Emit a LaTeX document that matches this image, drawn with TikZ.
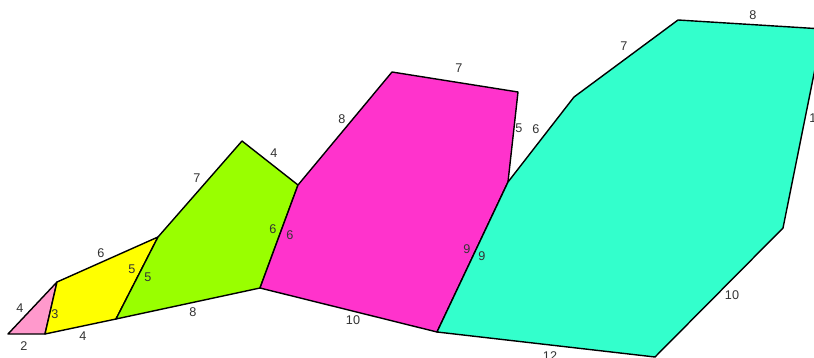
\documentclass[tikz,border=0pt]{standalone}
\usepackage{fontspec}
\setmainfont{Liberation Sans}
\usepackage{xcolor}
\usepackage{tikz}

\definecolor{pinkf}{HTML}{FF99CC}
\definecolor{yellowf}{HTML}{FFFF00}
\definecolor{greenf}{HTML}{99FF00}
\definecolor{magentaf}{HTML}{FF33CC}
\definecolor{tealf}{HTML}{33FFCC}
\definecolor{labelc}{HTML}{333333}

\tikzset{
  face/.style={draw=black, line width=0.8pt, line join=round},
  side/.style={text=labelc, inner sep=0pt, font=\fontsize{7.2}{8}\selectfont}
}

\begin{document}
\begin{tikzpicture}[x=0.02cm, y=-0.02cm]
        \useasboundingbox (0,0) rectangle (814,358);
        \clip (0,0) rectangle (814,358);

        % corners
        \coordinate (a) at (8,334);
        \coordinate (b) at (45,334);
        \coordinate (c) at (57,282);
        \coordinate (d) at (158,237);
        \coordinate (e) at (116,319);
        \coordinate (f) at (242,141);
        \coordinate (g) at (298,185);
        \coordinate (h) at (260,288);
        \coordinate (i) at (392,72);
        \coordinate (j) at (518,92);
        \coordinate (k) at (508,182);
        \coordinate (l) at (437,332);
        \coordinate (m) at (574,97);
        \coordinate (n) at (678,20);
        \coordinate (o) at (823,29);
        \coordinate (p) at (783,228);
        \coordinate (q) at (655,357);

        \filldraw[face, fill=pinkf] (a) -- (b) -- (c) -- cycle;
        \filldraw[face, fill=yellowf] (b) -- (c) -- (d) -- (e) -- cycle;
        \filldraw[face, fill=greenf] (e) -- (d) -- (f) -- (g) -- (h) -- cycle;
        \filldraw[face, fill=magentaf] (h) -- (g) -- (i) -- (j) -- (k) -- (l) -- cycle;
        \filldraw[face, fill=tealf] (l) -- (k) -- (m) -- (n) -- (o) -- (p) -- (q) -- cycle;

        % side lengths
        \node[side] (pk1) at (20,308) {4};
        \node[side] (pk2) at (24,346) {2};
        \node[side] (pk3) at (55,314) {3};

        \node[side] (ye1) at (101,253) {6};
        \node[side] (ye2) at (83,336) {4};
        \node[side] (ye3) at (132,269) {5};

        \node[side] (gr1) at (148,277) {5};
        \node[side] (gr2) at (197,178) {7};
        \node[side] (gr3) at (274,153) {4};
        \node[side] (gr4) at (273,229) {6};
        \node[side] (gr5) at (193,312) {8};

        \node[side] (mg1) at (342,119) {8};
        \node[side] (mg2) at (459,68) {7};
        \node[side] (mg3) at (519,128) {5};
        \node[side] (mg4) at (290,235) {6};
        \node[side] (mg5) at (467,249) {9};
        \node[side] (mg6) at (353,320) {10};

        \node[side] (tl1) at (482,256) {9};
        \node[side] (tl2) at (536,129) {6};
        \node[side] (tl3) at (624,46) {7};
        \node[side] (tl4) at (753,15) {8};
        \node[side] (tl5) at (816,118) {11};
        \node[side] (tl6) at (732,295) {10};
        \node[side] (tl7) at (550,356) {12};
\end{tikzpicture}
\end{document}
